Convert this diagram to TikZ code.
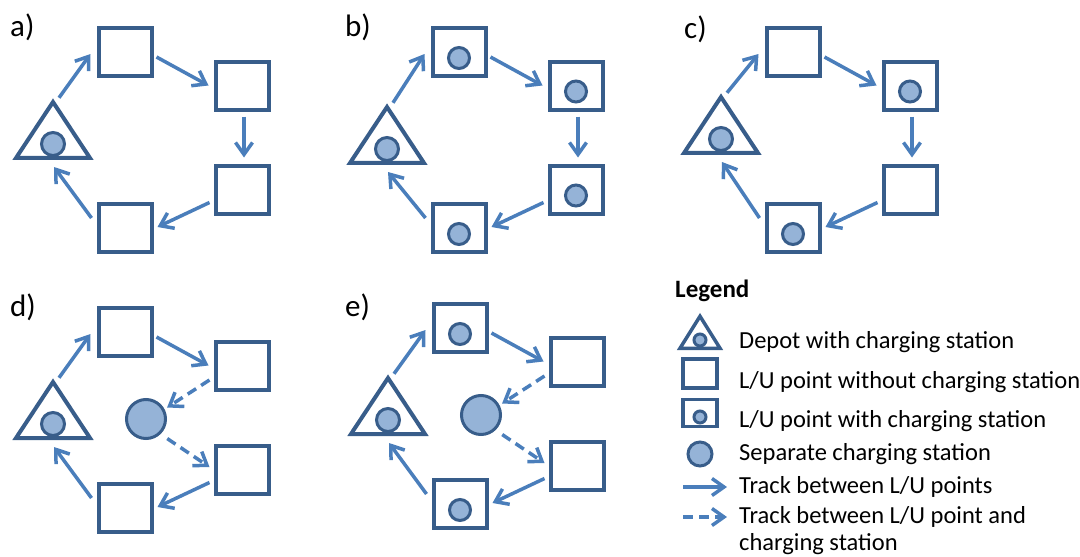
\documentclass[tikz,border=0pt]{standalone}
\usepackage{fontspec}
\setmainfont{Carlito}
\usetikzlibrary{arrows.meta, shapes.geometric}
\definecolor{boxblue}{HTML}{385D8A}
\definecolor{fillblue}{HTML}{95B3D7}
\definecolor{trackblue}{HTML}{4A7EBB}
\begin{document}
\begin{tikzpicture}[x=1pt, y=-1pt,
    every node/.style={inner sep=0pt},
    cs/.style={draw=boxblue, fill=fillblue, line width=3pt},
    lu/.style={draw=boxblue, line width=4pt, minimum width=53pt, minimum height=48pt},
    luc/.style={lu, path picture={\draw[cs] ([yshift=-6pt]path picture bounding box.center) circle[radius=10.5pt];}},
    depot/.style={draw=boxblue, line width=4pt, isosceles triangle, shape border rotate=90,
        isosceles triangle stretches, minimum width=74pt, minimum height=56pt},
    station/.style={cs, circle, minimum size=39pt},
    track/.style={draw=trackblue, line width=3.5pt, -{Straight Barb[length=12pt, width=17pt]}},
    feeder/.style={track, dash pattern=on 10pt off 6pt},
    lab/.style={font=\fontsize{31}{32}\selectfont, anchor=base west},
    legtext/.style={font=\fontsize{24.5}{30}\selectfont, anchor=base west}
]
\useasboundingbox (0,0) rectangle (1080,557);

% panels a) to e)
\foreach \p/\dx/\dy/\ty/\sa/\sb/\sc/\sd in {a/0/0/0/lu/lu/lu/lu, b/334/0/5/luc/luc/luc/luc,
    c/668/0/-5/lu/luc/lu/luc, d/0/280/0/lu/lu/lu/lu, e/335/276/0/luc/lu/lu/luc}{
  \begin{scope}[shift={(\dx,\dy)}]
    \node[depot, anchor=south] (\p0) at (53,160+\ty) {};
    \node[cs, circle, minimum size=23pt] (\p0c) at (53,144+\ty) {};
    \node[\sa] (\p1) at (125,52) {};
    \node[\sb] (\p2) at (242,85.5) {};
    \node[\sc] (\p3) at (242,189.5) {};
    \node[\sd] (\p4) at (125,228) {};
    \draw[track] ([shift={(6,1)}]\p0.apex) -- ([shift={(-6,2)}]\p1.west);
    \draw[track] ([shift={(3,5)}]\p1.east) -- ([shift={(-5,0)}]\p2.west);
    \draw[track] ([shift={(-4,13)}]\p3.west) -- ([shift={(4,-1)}]\p4.east);
    \draw[track] ([shift={(-5,-10)}]\p4.west) -- ([shift={(1,7)}]\p0.south);
  \end{scope}
}
\node[lab] (la) at (10,36) {a)};
\node[lab] (lb) at (345,36) {b)};
\node[lab] (lc) at (684,38) {c)};
\node[lab] (ld) at (10,316) {d)};
\node[lab] (le) at (345,316) {e)};

% direct tracks
\foreach \p in {a,b,c}
  \draw[track] ([shift={(2,5)}]\p2.south) -- ([shift={(2,-6)}]\p3.north);

% separate charging stations
\node[station] (ds) at (146,419) {};
\node[station] (es) at (481,415) {};
\foreach \p in {d,e}{
  \draw[feeder, shorten >=3pt] ([shift={(-4,14.5)}]\p2.west) -- (\p s.28);
  \draw[feeder, shorten <=8pt] (\p s.-46) -- ([shift={(-4,-2.5)}]\p3.west);
}

% legend
\node[legtext, font=\fontsize{25}{30}\selectfont\bfseries] (legend) at (675,297) {Legend};
\node[depot, line width=3.5pt, minimum width=40pt, minimum height=32pt, anchor=south] (ldep) at (700,350) {};
\node[cs, circle, minimum size=12pt] (ldepc) at (700,340) {};
\node[lu, line width=3.5pt, minimum width=34pt, minimum height=29pt] (llu) at (700,373.5) {};
\node[lu, line width=3.5pt, minimum width=34pt, minimum height=27pt] (lluc) at (700,413) {};
\node[cs, circle, minimum size=12pt] (llucc) at (700,417) {};
\node[cs, circle, minimum size=24pt] (lst) at (700,454) {};
\coordinate (lt1) at (683,487);
\coordinate (lt2) at (727,487);
\coordinate (lf1) at (683,517);
\coordinate (lf2) at (727,517);
\draw[track] (lt1) -- (lt2);
\draw[feeder] (lf1) -- (lf2);
\node[legtext] (t1) at (739,348) {Depot with charging station};
\node[legtext] (t2) at (739,388) {L/U point without charging station};
\node[legtext] (t3) at (739,427) {L/U point with charging station};
\node[legtext] (t4) at (739,460.5) {Separate charging station};
\node[legtext] (t5) at (739,493) {Track between L/U points};
\node[legtext] (t6) at (739,523.5) {Track between L/U point and};
\node[legtext] (t7) at (739,550) {charging station};
\end{tikzpicture}
\end{document}
